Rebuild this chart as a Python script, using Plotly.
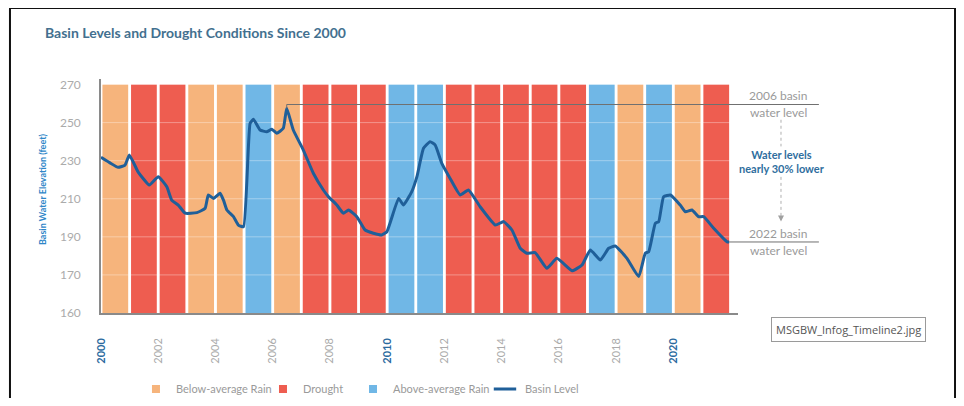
import plotly.graph_objects as go

# ---------------- data ----------------
years = list(range(2000, 2022))
conditions = [
    "Below-average Rain", "Drought", "Drought", "Below-average Rain", "Below-average Rain",
    "Above-average Rain", "Below-average Rain", "Drought", "Drought", "Drought",
    "Above-average Rain", "Above-average Rain", "Drought", "Drought", "Drought",
    "Drought", "Drought", "Above-average Rain", "Below-average Rain", "Above-average Rain",
    "Below-average Rain", "Drought",
]
category_order = ["Below-average Rain", "Drought", "Above-average Rain"]
category_colors = {"Below-average Rain": "#F6B47C", "Drought": "#EE5D50", "Above-average Rain": "#70B7E6"}

level_time = [
    2000.00, 2000.30, 2000.60, 2000.84, 2000.99, 2001.30, 2001.69, 2002.00, 2002.30, 2002.47,
    2002.70, 2002.94, 2003.35, 2003.64, 2003.75, 2003.93, 2004.16, 2004.28, 2004.40, 2004.63,
    2004.80, 2004.98, 2005.21, 2005.33, 2005.56, 2005.79, 2005.97, 2006.14, 2006.37, 2006.49,
    2006.72, 2007.07, 2007.42, 2007.77, 2007.95, 2008.24, 2008.47, 2008.65, 2008.94, 2009.23,
    2009.52, 2009.81, 2009.99, 2010.40, 2010.57, 2010.86, 2011.04, 2011.27, 2011.50, 2011.68,
    2011.91, 2012.20, 2012.55, 2012.84, 2013.25, 2013.78, 2014.07, 2014.36, 2014.65, 2014.88,
    2015.17, 2015.58, 2015.93, 2016.46, 2016.81, 2017.10, 2017.45, 2017.74, 2017.97, 2018.38,
    2018.79, 2019.02, 2019.14, 2019.37, 2019.49, 2019.66, 2019.90, 2020.24, 2020.42, 2020.65,
    2020.88, 2021.06, 2021.41, 2021.88, 2021.95,
]
level_feet = [
    231.8, 229.0, 226.5, 227.7, 233.0, 224.0, 217.2, 221.6, 216.3, 209.3,
    206.7, 202.4, 202.7, 205.0, 212.0, 210.2, 212.9, 209.3, 204.1, 200.6,
    196.2, 195.3, 249.6, 251.7, 246.1, 245.2, 246.5, 244.4, 247.0, 257.5,
    246.1, 235.6, 223.4, 214.6, 211.1, 206.7, 202.4, 204.1, 200.6, 193.6,
    191.9, 191.0, 192.7, 210.2, 206.7, 213.7, 221.6, 236.5, 240.0, 238.2,
    228.6, 220.7, 212.0, 214.6, 205.8, 196.2, 198.0, 193.6, 184.0, 181.4,
    181.7, 173.5, 178.7, 172.2, 175.2, 183.1, 177.8, 184.0, 185.2, 178.7,
    169.1, 181.4, 182.2, 197.1, 198.0, 211.1, 212.0, 206.7, 203.2, 204.1,
    200.6, 200.6, 194.5, 187.4, 187.3,
]

y_tickvals = [150, 170, 190, 210, 230, 250, 270]
y_ticktext = ["160", "170", "190", "210", "230", "250", "270"]
x_tickvals = list(range(2000, 2021, 2))
highlight_years = [2000, 2010, 2020]

bar_base = 150
bar_top = 270
level_2006 = 259.5
level_2022 = level_feet[-1]

# ---------------- styling helpers ----------------
X_RANGE = [2000.0, 2022.26]
Y_RANGE = [150, 272.9]
FONT = "Lato"
GRAY = "#9a9a9a"
BLUE_TXT = "#2F6E9E"
LINE_BLUE = "#1F5F99"
W, H = 948, 390  # page body adds an 8px margin around the figure


def ypaper(v):
    return (v - Y_RANGE[0]) / (Y_RANGE[1] - Y_RANGE[0])


x_ticktext = [
    f"<b><span style='color:#2B6A9E'>{y}</span></b>" if y in highlight_years else str(y)
    for y in x_tickvals
]

fig = go.Figure()

legend_ids = {"Below-average Rain": "legend", "Drought": "legend2", "Above-average Rain": "legend3"}
for cat in category_order:
    xs = [y + 0.5 for y, c in zip(years, conditions) if c == cat]
    fig.add_trace(go.Bar(
        x=xs, y=[bar_top - bar_base] * len(xs), base=bar_base, width=0.9,
        marker=dict(color=category_colors[cat], line=dict(width=0)),
        name=cat, hoverinfo="skip", showlegend=False,
    ))

# faint horizontal grid lines over the bars (below the level line)
gx, gy = [], []
for v in y_tickvals[1:]:
    gx += [X_RANGE[0], X_RANGE[1], None]
    gy += [v, v, None]
fig.add_trace(go.Scatter(x=gx, y=gy, mode="lines", line=dict(color="rgba(255,255,255,0.35)", width=1),
                         showlegend=False, hoverinfo="skip"))

fig.add_trace(go.Scatter(
    x=level_time, y=level_feet, mode="lines", name="Basin Level", showlegend=False,
    line=dict(color=LINE_BLUE, width=3, shape="spline", smoothing=0.4),
))

# legend entries (small square swatches and a short line swatch)
for cat in category_order:
    fig.add_trace(go.Scatter(x=[None], y=[None], mode="markers", name=cat, legend=legend_ids[cat],
                             marker=dict(symbol="square", size=8, color=category_colors[cat])))
fig.add_trace(go.Scatter(x=[None], y=[None], mode="markers", name="Basin Level", legend="legend4",
                         marker=dict(symbol="line-ew", size=16, color=LINE_BLUE,
                                     line=dict(color=LINE_BLUE, width=3))))

shapes = []
peak_x = level_time[level_feet.index(max(level_feet))]
line_gray = "#707070"
# 2006 reference line
shapes.append(dict(type="line", xref="x", yref="y", x0=peak_x, x1=peak_x, y0=max(level_feet), y1=level_2006,
                   line=dict(color=line_gray, width=1), layer="above"))
shapes.append(dict(type="line", xref="x", yref="y", x0=peak_x, x1=X_RANGE[1], y0=level_2006, y1=level_2006,
                   line=dict(color=line_gray, width=1), layer="above"))
shapes.append(dict(type="line", xref="paper", yref="paper", x0=1.0, x1=1.127,
                   y0=ypaper(level_2006), y1=ypaper(level_2006), line=dict(color=line_gray, width=1)))
# 2022 reference line
shapes.append(dict(type="line", xref="x", yref="y", x0=level_time[-1], x1=X_RANGE[1], y0=level_2022, y1=level_2022,
                   line=dict(color=line_gray, width=1), layer="above"))
shapes.append(dict(type="line", xref="paper", yref="paper", x0=1.0, x1=1.127,
                   y0=ypaper(level_2022), y1=ypaper(level_2022), line=dict(color=line_gray, width=1)))
# dashed arrow
ax_p = 1.0675
shapes.append(dict(type="line", xref="paper", yref="paper", x0=ax_p, x1=ax_p, y0=ypaper(251.5), y1=ypaper(237.5),
                   line=dict(color="#b0b0b0", width=1, dash="3px,3px")))
shapes.append(dict(type="line", xref="paper", yref="paper", x0=ax_p, x1=ax_p, y0=ypaper(221.5), y1=ypaper(199.5),
                   line=dict(color="#b0b0b0", width=1, dash="3px,3px")))
# outer frame
shapes.append(dict(type="rect", xref="paper", yref="paper", x0=-0.1429, x1=1.3407, y0=-0.45, y1=1.3034,
                   line=dict(color="#111111", width=2), fillcolor="rgba(0,0,0,0)"))

annotations = []
xt = 1.063
for txt, yv in [("2006 basin", 264.2), ("water level", 255.3), ("2022 basin", 191.6), ("water level", 182.6)]:
    annotations.append(dict(text=txt, xref="paper", yref="y", x=xt, y=yv, showarrow=False,
                            font=dict(family=FONT, size=12, color=GRAY), xanchor="center", yanchor="middle"))
annotations.append(dict(text="<b>Water levels<br>nearly 30% lower</b>", xref="paper", yref="y", x=1.069, y=229.5,
                        showarrow=False, font=dict(family=FONT, size=11, color=BLUE_TXT),
                        xanchor="center", yanchor="middle"))
annotations.append(dict(text="", xref="paper", yref="y", x=ax_p, y=198.0, showarrow=True,
                        axref="pixel", ayref="pixel", ax=0, ay=-7, arrowhead=2, arrowsize=1.2, arrowwidth=1,
                        arrowcolor="#a0a0a0", standoff=0))
annotations.append(dict(text="Basin Water Elevation (feet)", xref="paper", yref="paper", x=-0.091, y=0.53,
                        textangle=-90, showarrow=False, font=dict(family=FONT, size=9, color="#2E86C8", weight=700),
                        xanchor="center", yanchor="middle"))
annotations.append(dict(text="MSGBW_Infog_Timeline2.jpg", xref="paper", yref="paper", x=1.174, y=-0.0705,
                        showarrow=False, font=dict(family="Open Sans", size=11, color="#555555"),
                        bordercolor="#9a9a9a", borderwidth=1, borderpad=4, bgcolor="white",
                        xanchor="center", yanchor="middle"))

leg_common = dict(orientation="h", y=-0.325, xanchor="left", yanchor="middle",
                  font=dict(family=FONT, size=11, color=GRAY), itemwidth=30, bgcolor="rgba(0,0,0,0)")

fig.update_layout(
    width=W, height=H,
    margin=dict(l=93, r=218, t=71, b=85, autoexpand=False),
    paper_bgcolor="white", plot_bgcolor="white",
    barmode="overlay",
    title=dict(text="Basin Levels and Drought Conditions Since 2000", x=37 / W, xanchor="left",
               y=1 - 25 / H, yanchor="middle",
               font=dict(family=FONT, size=14, color="#43708F", weight=700)),
    xaxis=dict(range=X_RANGE, tickvals=x_tickvals, ticktext=x_ticktext, tickangle=-90,
               showgrid=False, zeroline=False, showline=True, linecolor="#8a8a8a", linewidth=1.5,
               ticks="", ticklabelstandoff=19, automargin=False,
               tickfont=dict(family=FONT, size=11, color="#ababab")),
    yaxis=dict(range=Y_RANGE, tickvals=y_tickvals, ticktext=y_ticktext,
               showgrid=False, zeroline=False, showline=True, linecolor="#8a8a8a", linewidth=1.5,
               ticks="", ticklabelstandoff=16, automargin=False,
               tickfont=dict(family=FONT, size=12, color="#ababab")),
    legend=dict(x=0.0549, **leg_common),
    legend2=dict(x=0.2543, **leg_common),
    legend3=dict(x=0.3956, **leg_common),
    legend4=dict(x=0.6028, **leg_common),
    shapes=shapes, annotations=annotations,
    showlegend=True,
)

fig.write_html("out.html")
